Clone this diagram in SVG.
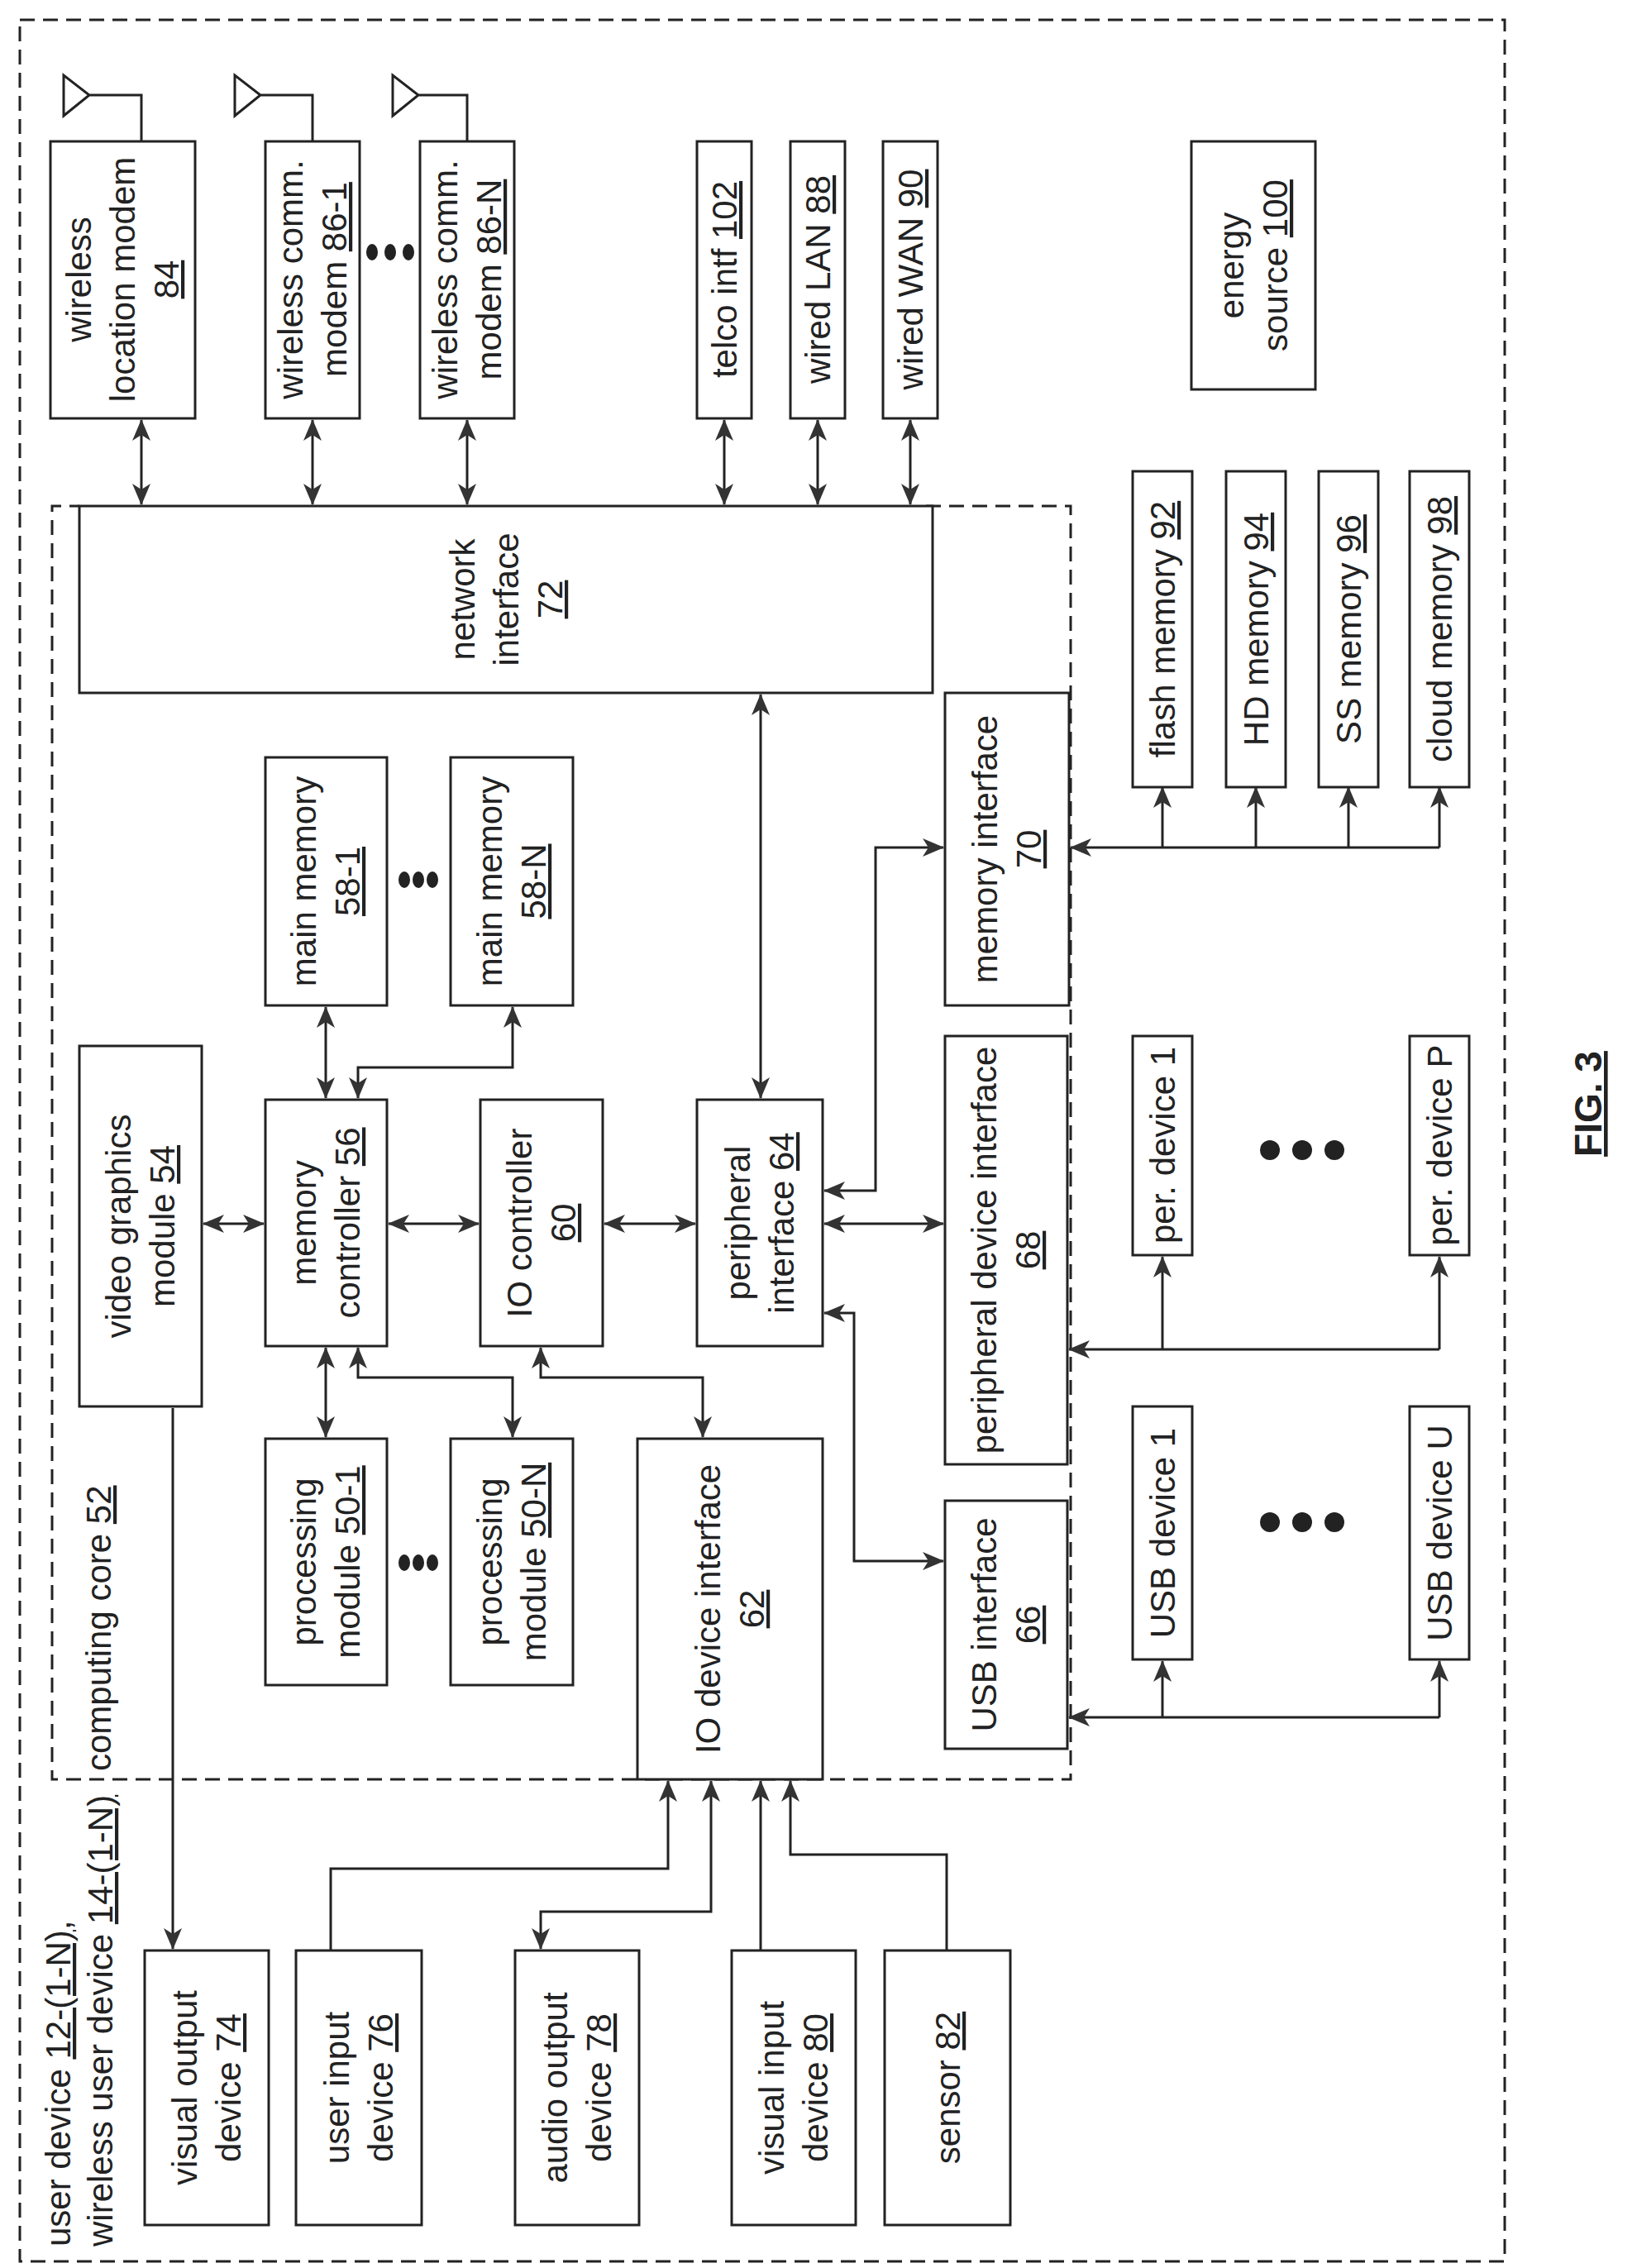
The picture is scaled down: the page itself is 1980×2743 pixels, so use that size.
<svg xmlns="http://www.w3.org/2000/svg" width="1980" height="2743" viewBox="0 0 1980 2743">
<style>
.b{fill:#fff;stroke:#222;stroke-width:3}
.d{fill:none;stroke:#222;stroke-width:3;stroke-dasharray:18 10}
.c{fill:none;stroke:#222;stroke-width:3}
.a{marker-end:url(#ah)}
.aa{marker-end:url(#ah);marker-start:url(#ah)}
text{font-family:"Liberation Sans",Arial,sans-serif;font-size:42px;fill:#222;text-anchor:middle}
.u{text-decoration:underline}
.dot{fill:#222}
</style>
<defs>
<marker id="ah" markerUnits="userSpaceOnUse" markerWidth="26" markerHeight="22" refX="25" refY="11" orient="auto-start-reverse"><path d="M0,0 L26,11 L0,22 L7,11 Z" fill="#333"/></marker>
</defs>
<rect class="d" x="24" y="24" width="1796" height="2711"/>
<path class="d" d="M1120,612 H1295 V2152 H63 V612 H96"/>
<g id="connectors">
<path class="c aa" d="M171,508 V610"/>
<path class="c aa" d="M378,508 V610"/>
<path class="c aa" d="M565,508 V610"/>
<path class="c aa" d="M876,508 V610"/>
<path class="c aa" d="M989,508 V610"/>
<path class="c aa" d="M1101,508 V610"/>
<path class="c aa" d="M920,840 V1328"/>
<path class="c aa" d="M246,1480 H319"/>
<path class="c aa" d="M470,1480 H579"/>
<path class="c aa" d="M731,1480 H841"/>
<path class="c aa" d="M997,1480 H1141"/>
<path class="c aa" d="M394,1218 V1328"/>
<path class="c aa" d="M620,1218 V1291 H433 V1328"/>
<path class="c aa" d="M394,1630 V1738"/>
<path class="c aa" d="M433,1630 V1666 H620 V1738"/>
<path class="c aa" d="M654,1630 V1666 H850 V1738"/>
<path class="c aa" d="M997,1440 H1059 V1025 H1141"/>
<path class="c aa" d="M997,1588 H1033 V1888 H1141"/>
<path class="c a" d="M1741,1025 H1295"/>
<path class="c a" d="M1406,1025 V952"/><path class="c a" d="M1519,1025 V952"/><path class="c a" d="M1631,1025 V952"/><path class="c a" d="M1741,1025 V952"/>
<path class="c a" d="M1741,1632 H1293"/>
<path class="c a" d="M1406,1632 V1520"/><path class="c a" d="M1741,1632 V1520"/>
<path class="c a" d="M1741,2077 H1293"/>
<path class="c a" d="M1406,2077 V2009"/><path class="c a" d="M1741,2077 V2009"/>
<path class="c a" d="M209,1703 V2357"/>
<path class="c a" d="M400,2359 V2260 H808 V2154"/>
<path class="c aa" d="M860,2154 V2312 H654 V2357"/>
<path class="c a" d="M920,2359 V2154"/>
<path class="c a" d="M1145,2359 V2243 H956 V2154"/>
<path class="c" d="M77,91 V140 L108,115 Z M108,115 H171 V171"/>
<path class="c" d="M284,91 V140 L315,115 Z M315,115 H378 V171"/>
<path class="c" d="M475,91 V140 L506,115 Z M506,115 H565 V171"/>
</g>
<g id="m84"><rect class="b" x="61" y="171" width="175" height="335"/><text transform="translate(148,338) rotate(-90)"><tspan x="0" y="-38">wireless</tspan><tspan x="0" y="15">location modem</tspan><tspan x="0" y="68" class="u">84</tspan></text></g>
<g id="m86-1"><rect class="b" x="321" y="171" width="114" height="335"/><text transform="translate(378,338) rotate(-90)"><tspan x="0" y="-12">wireless comm.</tspan><tspan x="0" y="41">modem <tspan class="u">86-1</tspan></tspan></text></g>
<g id="dots1"><ellipse class="dot" cx="450" cy="305" rx="7" ry="10"/><ellipse class="dot" cx="472" cy="305" rx="7" ry="10"/><ellipse class="dot" cx="494" cy="305" rx="7" ry="10"/></g>
<g id="m86-N"><rect class="b" x="508" y="171" width="114" height="335"/><text transform="translate(565,338) rotate(-90)"><tspan x="0" y="-12">wireless comm.</tspan><tspan x="0" y="41">modem <tspan class="u">86-N</tspan></tspan></text></g>
<g id="telco"><rect class="b" x="843" y="171" width="66" height="335"/><text transform="translate(876,338) rotate(-90)" y="15">telco intf <tspan class="u">102</tspan></text></g>
<g id="lan"><rect class="b" x="956" y="171" width="66" height="335"/><text transform="translate(989,338) rotate(-90)" y="15">wired LAN <tspan class="u">88</tspan></text></g>
<g id="wan"><rect class="b" x="1068" y="171" width="66" height="335"/><text transform="translate(1101,338) rotate(-90)" y="15">wired WAN <tspan class="u">90</tspan></text></g>
<g id="energy"><rect class="b" x="1441" y="171" width="150" height="300"/><text transform="translate(1516,321) rotate(-90)"><tspan x="0" y="-12">energy</tspan><tspan x="0" y="41">source <tspan class="u">100</tspan></tspan></text></g>
<g id="ni"><rect class="b" x="96" y="612" width="1032" height="226"/><text transform="translate(612,725) rotate(-90)"><tspan x="0" y="-38">network</tspan><tspan x="0" y="15">interface</tspan><tspan x="0" y="68" class="u">72</tspan></text></g>
<g id="memif"><rect class="b" x="1143" y="838" width="150" height="378"/><text transform="translate(1218,1027) rotate(-90)"><tspan x="0" y="-12">memory interface</tspan><tspan x="0" y="41" class="u">70</tspan></text></g>
<g id="flash"><rect class="b" x="1370" y="570" width="72" height="382"/><text transform="translate(1406,761) rotate(-90)" y="15">flash memory <tspan class="u">92</tspan></text></g>
<g id="hd"><rect class="b" x="1483" y="570" width="72" height="382"/><text transform="translate(1519,761) rotate(-90)" y="15">HD memory <tspan class="u">94</tspan></text></g>
<g id="ss"><rect class="b" x="1595" y="570" width="72" height="382"/><text transform="translate(1631,761) rotate(-90)" y="15">SS memory <tspan class="u">96</tspan></text></g>
<g id="cloud"><rect class="b" x="1705" y="570" width="72" height="382"/><text transform="translate(1741,761) rotate(-90)" y="15">cloud memory <tspan class="u">98</tspan></text></g>
<g id="mm1"><rect class="b" x="321" y="916" width="147" height="300"/><text transform="translate(394,1066) rotate(-90)"><tspan x="0" y="-12">main memory</tspan><tspan x="0" y="41" class="u">58-1</tspan></text></g>
<g id="dots2"><ellipse class="dot" cx="489" cy="1064" rx="7" ry="10"/><ellipse class="dot" cx="506" cy="1064" rx="7" ry="10"/><ellipse class="dot" cx="523" cy="1064" rx="7" ry="10"/></g>
<g id="mmN"><rect class="b" x="545" y="916" width="148" height="300"/><text transform="translate(619,1066) rotate(-90)"><tspan x="0" y="-12">main memory</tspan><tspan x="0" y="41" class="u">58-N</tspan></text></g>
<g id="video"><rect class="b" x="96" y="1265" width="148" height="436"/><text transform="translate(170,1483) rotate(-90)"><tspan x="0" y="-12">video graphics</tspan><tspan x="0" y="41">module <tspan class="u">54</tspan></tspan></text></g>
<g id="memctrl"><rect class="b" x="321" y="1330" width="147" height="298"/><text transform="translate(394,1479) rotate(-90)"><tspan x="0" y="-12">memory</tspan><tspan x="0" y="41">controller <tspan class="u">56</tspan></tspan></text></g>
<g id="ioctrl"><rect class="b" x="581" y="1330" width="148" height="298"/><text transform="translate(655,1479) rotate(-90)"><tspan x="0" y="-12">IO controller</tspan><tspan x="0" y="41" class="u">60</tspan></text></g>
<g id="periph"><rect class="b" x="843" y="1330" width="152" height="298"/><text transform="translate(919,1479) rotate(-90)"><tspan x="0" y="-12">peripheral</tspan><tspan x="0" y="41">interface <tspan class="u">64</tspan></tspan></text></g>
<g id="pdi"><rect class="b" x="1143" y="1253" width="148" height="518"/><text transform="translate(1217,1512) rotate(-90)"><tspan x="0" y="-12">peripheral device interface</tspan><tspan x="0" y="41" class="u">68</tspan></text></g>
<g id="pd1"><rect class="b" x="1370" y="1253" width="72" height="265"/><text transform="translate(1406,1385) rotate(-90)" y="15">per. device 1</text></g>
<g id="pdP"><rect class="b" x="1705" y="1253" width="72" height="265"/><text transform="translate(1741,1385) rotate(-90)" y="15">per. device P</text></g>
<g id="dots3"><circle class="dot" cx="1536" cy="1391" r="12"/><circle class="dot" cx="1575" cy="1391" r="12"/><circle class="dot" cx="1614" cy="1391" r="12"/></g>
<g id="proc1"><rect class="b" x="321" y="1740" width="147" height="298"/><text transform="translate(394,1889) rotate(-90)"><tspan x="0" y="-12">processing</tspan><tspan x="0" y="41">module <tspan class="u">50-1</tspan></tspan></text></g>
<g id="dots4"><ellipse class="dot" cx="489" cy="1890" rx="7" ry="10"/><ellipse class="dot" cx="506" cy="1890" rx="7" ry="10"/><ellipse class="dot" cx="523" cy="1890" rx="7" ry="10"/></g>
<g id="procN"><rect class="b" x="545" y="1740" width="148" height="298"/><text transform="translate(619,1889) rotate(-90)"><tspan x="0" y="-12">processing</tspan><tspan x="0" y="41">module <tspan class="u">50-N</tspan></tspan></text></g>
<g id="iodev"><rect class="b" x="771" y="1740" width="224" height="412"/><text transform="translate(883,1946) rotate(-90)"><tspan x="0" y="-12">IO device interface</tspan><tspan x="0" y="41" class="u">62</tspan></text></g>
<g id="usbif"><rect class="b" x="1143" y="1815" width="148" height="300"/><text transform="translate(1217,1965) rotate(-90)"><tspan x="0" y="-12">USB interface</tspan><tspan x="0" y="41" class="u">66</tspan></text></g>
<g id="usb1"><rect class="b" x="1370" y="1701" width="72" height="306"/><text transform="translate(1406,1854) rotate(-90)" y="15">USB device 1</text></g>
<g id="usbU"><rect class="b" x="1705" y="1701" width="72" height="306"/><text transform="translate(1741,1854) rotate(-90)" y="15">USB device U</text></g>
<g id="dots5"><circle class="dot" cx="1536" cy="1841" r="12"/><circle class="dot" cx="1575" cy="1841" r="12"/><circle class="dot" cx="1614" cy="1841" r="12"/></g>
<g id="visout"><rect class="b" x="175" y="2359" width="150" height="332"/><text transform="translate(250,2525) rotate(-90)"><tspan x="0" y="-12">visual output</tspan><tspan x="0" y="41">device <tspan class="u">74</tspan></tspan></text></g>
<g id="userin"><rect class="b" x="358" y="2359" width="152" height="332"/><text transform="translate(434,2525) rotate(-90)"><tspan x="0" y="-12">user input</tspan><tspan x="0" y="41">device <tspan class="u">76</tspan></tspan></text></g>
<g id="audio"><rect class="b" x="623" y="2359" width="150" height="332"/><text transform="translate(698,2525) rotate(-90)"><tspan x="0" y="-12">audio output</tspan><tspan x="0" y="41">device <tspan class="u">78</tspan></tspan></text></g>
<g id="visin"><rect class="b" x="885" y="2359" width="150" height="332"/><text transform="translate(960,2525) rotate(-90)"><tspan x="0" y="-12">visual input</tspan><tspan x="0" y="41">device <tspan class="u">80</tspan></tspan></text></g>
<g id="sensor"><rect class="b" x="1070" y="2359" width="152" height="332"/><text transform="translate(1146,2525) rotate(-90)" y="15">sensor <tspan class="u">82</tspan></text></g>
<g id="labels">
<text transform="translate(134,2142) rotate(-90)" style="text-anchor:start">computing core <tspan class="u">52</tspan></text>
<text transform="translate(85,2717) rotate(-90)" style="text-anchor:start">user device <tspan class="u">12-(1-N)</tspan>,</text>
<text transform="translate(136,2717) rotate(-90)" style="text-anchor:start">wireless user device <tspan class="u">14-(1-N)</tspan></text>
<text transform="translate(1937,1335) rotate(-90)" style="font-weight:bold;font-size:46px" class="u">FIG. 3</text>
</g>
</svg>
